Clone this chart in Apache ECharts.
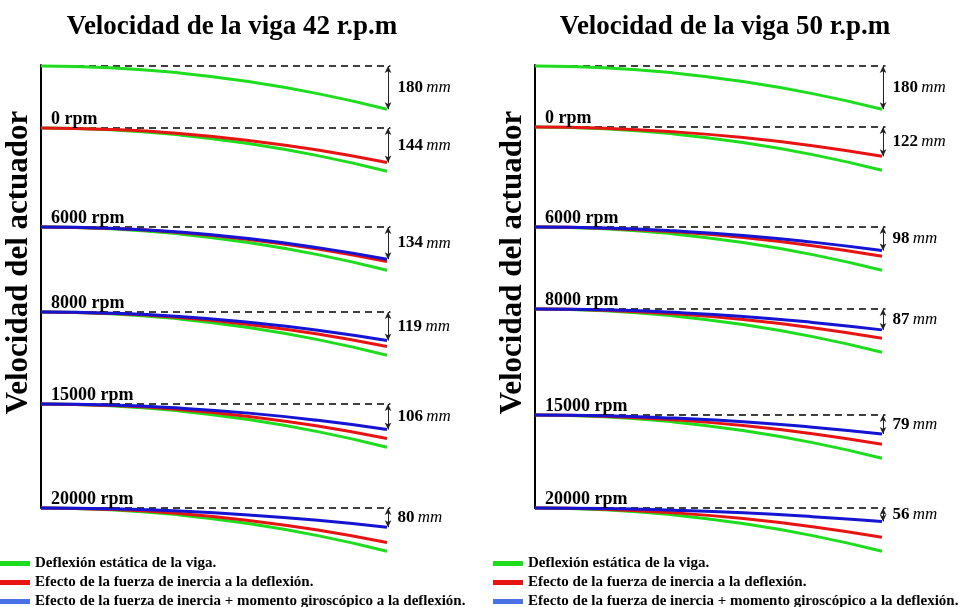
<!DOCTYPE html>
<html>
<head>
<meta charset="utf-8">
<script src="https://cdn.jsdelivr.net/npm/echarts@6/dist/echarts.min.js"></script>
<style>html,body{margin:0;padding:0;background:#fff}#c{width:959px;height:607px}</style>
</head>
<body>
<div id="c"></div>
<script>
// ---- data (deflection in mm along the beam, x = fraction of beam length) ----
const beamX = [0, 0.2, 0.4, 0.6, 0.8, 1];
const rpmLabels = ['', '0 rpm', '6000 rpm', '8000 rpm', '15000 rpm', '20000 rpm'];
const panelTitles = ['Velocidad de la viga 42 r.p.m', 'Velocidad de la viga 50 r.p.m'];
const seriesNames = ['Deflexión estática de la viga.', 'Efecto de la fuerza de inercia a la deflexión.', 'Efecto de la fuerza de inercia + momento giroscópico a la deflexión.'];

const static42 = [0, 7, 29, 65, 115, 180];
const inertia42 = [0, 6, 23, 52, 92, 144];
const gyro42_6000 = [0, 5, 21, 48, 86, 134];
const gyro42_8000 = [0, 5, 19, 43, 76, 119];
const gyro42_15000 = [0, 4, 17, 38, 68, 106];
const gyro42_20000 = [0, 3, 13, 29, 51, 80];
const deflLabels42 = [180, 144, 134, 119, 106, 80];

const static50 = [0, 7, 29, 65, 115, 180];
const inertia50 = [0, 5, 20, 44, 78, 122];
const gyro50_6000 = [0, 4, 16, 35, 63, 98];
const gyro50_8000 = [0, 3, 14, 31, 56, 87];
const gyro50_15000 = [0, 3, 13, 28, 51, 79];
const gyro50_20000 = [0, 2, 9, 20, 36, 56];
const deflLabels50 = [180, 122, 98, 87, 79, 56];

// ---- layout / style ----
const FONT = 'Liberation Serif';
const colors = ['#1edc1e', '#e81414', '#1414d2'];
const legendColors = ['#1edc1e', '#e81414', '#4a72e6'];
const panels = [
  {left: 41, width: 346, tops: [66, 128, 227, 312, 404, 508], titleX: 232, legendX: 0,
   stat: static42, inertia: inertia42, gyro: [null, null, gyro42_6000, gyro42_8000, gyro42_15000, gyro42_20000], labels: deflLabels42},
  {left: 535, width: 347, tops: [66, 127, 227, 309, 415, 508], titleX: 725, legendX: 493,
   stat: static50, inertia: inertia50, gyro: [null, null, gyro50_6000, gyro50_8000, gyro50_15000, gyro50_20000], labels: deflLabels50}
];
const ROW_H = 48, ROW_MAX = 200, X_MAX = 1.02;

const grid = [], xAxis = [], yAxis = [], series = [], title = [], legend = [];
const pair = arr => arr.map((v, i) => [beamX[i], v]);

panels.forEach((p, pi) => {
  // tall grid for the vertical axis line and name
  grid.push({left: p.left, top: 65, width: p.width, height: 443});
  const gi = grid.length - 1;
  xAxis.push({gridIndex: gi, type: 'value', show: false, min: 0, max: 1});
  yAxis.push({gridIndex: gi, type: 'value', min: 0, max: 1, axisLine: {show: true, lineStyle: {color: '#000', width: 2}},
    axisTick: {show: false}, axisLabel: {show: false}, splitLine: {show: false},
    name: 'Velocidad del actuador', nameLocation: 'middle', nameRotate: 90, nameGap: 7,
    nameTextStyle: {fontFamily: FONT, fontWeight: 'bold', fontSize: 31, color: '#000', padding: [0, 0, 0, 48]}});
  title.push({text: panelTitles[pi], left: p.titleX, top: 14, textAlign: 'center', padding: 0,
    textStyle: {fontFamily: FONT, fontWeight: 'bold', fontSize: 27, color: '#000'}});

  p.tops.forEach((top, r) => {
    grid.push({left: p.left, top: top, width: p.width * X_MAX, height: ROW_H});
    const g = grid.length - 1;
    xAxis.push({gridIndex: g, type: 'value', show: false, min: 0, max: X_MAX});
    yAxis.push({gridIndex: g, type: 'value', show: false, min: 0, max: ROW_MAX, inverse: true});
    if (rpmLabels[r]) {
      title.push({text: rpmLabels[r], left: p.left + 10, top: top - 18, padding: 0,
        textStyle: {fontFamily: FONT, fontWeight: 'bold', fontSize: 18, color: '#000'}});
    }
    const lab = p.labels[r];
    const curves = [p.stat];
    if (r >= 1) curves.push(p.inertia);
    if (r >= 2) curves.push(p.gyro[r]);
    curves.forEach((c, k) => {
      const s = {
        name: seriesNames[k], type: 'line', xAxisIndex: g, yAxisIndex: g, data: pair(c),
        smooth: true, showSymbol: false, symbol: 'none', silent: true, clip: false,
        lineStyle: {color: colors[k], width: 3}, itemStyle: {color: colors[k]}, z: 3 + k
      };
      if (k === 0) {
        s.markLine = {
          silent: true, symbol: ['none', 'none'], animation: false, label: {show: false}, z: 2,
          data: [
            [{coord: [0, 0], lineStyle: {type: [7, 5], color: '#000', width: 1.6}}, {coord: [1.01, 0]}],
            [{coord: [1.003, 0], symbol: 'arrow', symbolSize: [5, 7], lineStyle: {type: 'solid', color: '#222', width: 1}},
             {coord: [1.003, lab], symbol: 'arrow', symbolSize: [5, 7]}]
          ]
        };
        s.markPoint = {
          silent: true, symbol: 'rect', symbolSize: 1, itemStyle: {color: 'rgba(0,0,0,0)'}, animation: false,
          data: [{coord: [1, lab / 2]}],
          label: {show: true, position: 'right', distance: 10,
            formatter: '{n|' + lab + '} {u|mm}',
            rich: {n: {fontFamily: FONT, fontWeight: 'bold', fontSize: 17, color: '#000'},
                   u: {fontFamily: FONT, fontStyle: 'italic', fontSize: 17, color: '#000'}}}
        };
      }
      series.push(s);
    });
  });

  seriesNames.forEach((n, i) => {
    legend.push({
      left: p.legendX, top: 556 + i * 19, orient: 'vertical', itemWidth: 30, itemHeight: 5, icon: 'rect',
      padding: 0, selectedMode: false,
      textStyle: {fontFamily: FONT, fontWeight: 'bold', fontSize: 15, lineHeight: 15, color: '#000'},
      data: [{name: n, itemStyle: {color: legendColors[i]}}]
    });
  });
});

const chart = echarts.init(document.getElementById('c'));
chart.setOption({
  animation: false,
  backgroundColor: '#fff',
  title: title,
  legend: legend,
  grid: grid, xAxis: xAxis, yAxis: yAxis, series: series
});
</script>
</body>
</html>
